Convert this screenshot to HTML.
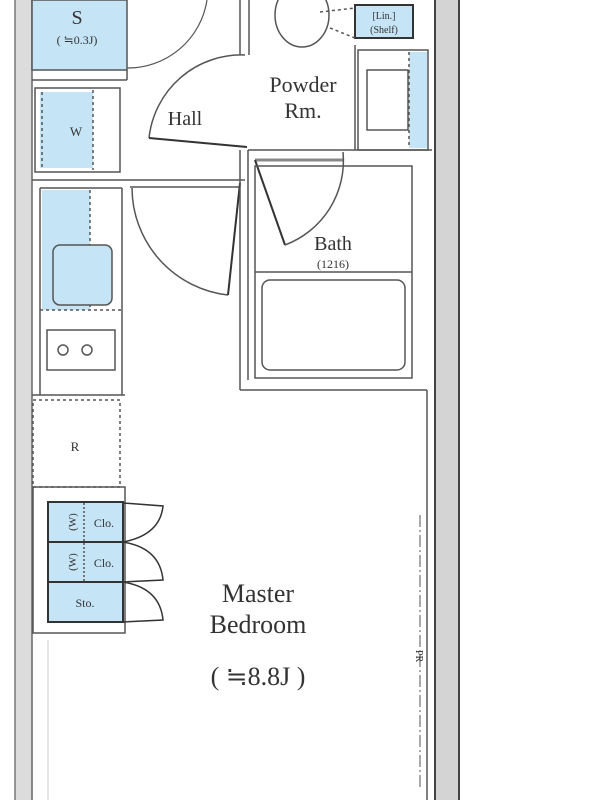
<!DOCTYPE html>
<html><head><style>html,body{margin:0;padding:0;background:#fff}svg{display:block}</style></head><body>
<svg width="600" height="800" viewBox="0 0 600 800" xmlns="http://www.w3.org/2000/svg" font-family="Liberation Serif, serif" fill="none" stroke="#555" stroke-width="1.5">
<!-- outer walls -->
<rect x="15" y="0" width="17" height="800" fill="#dcdcdc" stroke="none"/>
<line x1="15" y1="0" x2="15" y2="800" stroke="#777"/>
<line x1="32" y1="0" x2="32" y2="800" stroke="#666"/>
<rect x="435" y="0" width="24" height="800" fill="#d4d4d4" stroke="none"/>
<line x1="435" y1="0" x2="435" y2="800" stroke="#444" stroke-width="2"/>
<line x1="459" y1="0" x2="459" y2="800" stroke="#444" stroke-width="2"/>
<!-- S -->
<rect x="32" y="0" width="95" height="70" fill="#c5e4f5" stroke="#555"/>
<line x1="32" y1="80" x2="127" y2="80"/>
<line x1="127" y1="70" x2="127" y2="80"/>
<text x="77" y="24" font-size="20" fill="#333" stroke="none" text-anchor="middle">S</text>
<text x="77" y="44" font-size="12" fill="#333" stroke="none" text-anchor="middle">( ≒0.3J)</text>
<path d="M127 68 A80 80 0 0 0 207 0" stroke="#555" stroke-width="1.2"/>
<!-- Hall wall -->
<line x1="240" y1="0" x2="240" y2="55"/><line x1="249" y1="0" x2="249" y2="55"/>
<path d="M245 55 A93 93 0 0 0 149 138"/>
<line x1="149" y1="138" x2="247" y2="147" stroke="#333" stroke-width="2"/>
<text x="185" y="125" font-size="20" fill="#333" stroke="none" text-anchor="middle">Hall</text>
<!-- W -->
<rect x="35" y="88" width="85" height="84" fill="#fff"/>
<rect x="40" y="92" width="53" height="76" fill="#c5e4f5" stroke="none"/>
<line x1="93" y1="90" x2="93" y2="170" stroke-dasharray="3 3"/>
<line x1="42" y1="92" x2="42" y2="170" stroke-dasharray="3 3"/>
<text x="76" y="136" font-size="13" fill="#333" stroke="none" text-anchor="middle">W</text>
<line x1="32" y1="180" x2="245" y2="180"/>
<line x1="130" y1="187" x2="240" y2="187"/>
<!-- door 2 -->
<path d="M132 188 A108 108 0 0 0 228 295"/>
<line x1="240" y1="183" x2="228" y2="295" stroke="#333" stroke-width="2"/>
<!-- kitchen -->
<line x1="40" y1="188" x2="122" y2="188"/>
<line x1="122" y1="188" x2="122" y2="395"/>
<line x1="40" y1="188" x2="40" y2="395"/>
<rect x="42" y="190" width="48" height="120" fill="#c5e4f5" stroke="none"/>
<line x1="90" y1="190" x2="90" y2="310" stroke-dasharray="3 3"/>
<rect x="53" y="245" width="59" height="60" rx="7" fill="#c5e4f5"/>
<line x1="40" y1="310" x2="122" y2="310" stroke-dasharray="3 3"/>
<rect x="47" y="330" width="68" height="40" fill="#fff"/>
<circle cx="63" cy="350" r="5"/><circle cx="87" cy="350" r="5"/>
<line x1="32" y1="395" x2="125" y2="395"/>
<!-- R -->
<rect x="33" y="400" width="87" height="87" stroke-dasharray="3 3"/>
<text x="75" y="451" font-size="13" fill="#333" stroke="none" text-anchor="middle">R</text>
<!-- closets -->
<rect x="33" y="487" width="92" height="146"/>
<rect x="48" y="502" width="75" height="120" fill="#c5e4f5" stroke="#333" stroke-width="2"/>
<line x1="48" y1="542" x2="123" y2="542" stroke="#333" stroke-width="2"/>
<line x1="48" y1="582" x2="123" y2="582" stroke="#333" stroke-width="2"/>
<line x1="84" y1="503" x2="84" y2="581" stroke-dasharray="2 2"/>
<text x="104" y="527" font-size="12" fill="#333" stroke="none" text-anchor="middle">Clo.</text>
<text x="104" y="567" font-size="12" fill="#333" stroke="none" text-anchor="middle">Clo.</text>
<text x="76" y="522" font-size="11" fill="#333" stroke="none" text-anchor="middle" transform="rotate(-90 76 522)">(W)</text>
<text x="76" y="562" font-size="11" fill="#333" stroke="none" text-anchor="middle" transform="rotate(-90 76 562)">(W)</text>
<text x="85" y="607" font-size="12" fill="#333" stroke="none" text-anchor="middle">Sto.</text>
<path d="M123 503 L163 506 Q160 535 123 542 M123 542 Q160 548 163 580 L123 582 M123 582 Q160 588 163 620 L123 622" stroke="#333"/>
<!-- powder room -->
<ellipse cx="302" cy="15" rx="27" ry="32"/>
<rect x="355" y="5" width="58" height="33" fill="#c5e4f5" stroke="#333" stroke-width="2"/>
<text x="384" y="19" font-size="10" fill="#333" stroke="none" text-anchor="middle">[Lin.]</text>
<text x="384" y="33" font-size="10" fill="#333" stroke="none" text-anchor="middle">(Shelf)</text>
<path d="M320 12 L355 8 M330 28 L355 38" stroke-dasharray="3 3"/>
<line x1="355" y1="45" x2="355" y2="150"/>
<rect x="358" y="50" width="70" height="100"/>
<rect x="409" y="52" width="18" height="96" fill="#c5e4f5" stroke="none"/>
<line x1="409" y1="52" x2="409" y2="148" stroke-dasharray="3 3"/>
<rect x="367" y="70" width="41" height="60"/>
<text x="303" y="92" font-size="22" fill="#333" stroke="none" text-anchor="middle">Powder</text>
<text x="303" y="118" font-size="22" fill="#333" stroke="none" text-anchor="middle">Rm.</text>
<line x1="240" y1="150" x2="240" y2="390"/>
<line x1="248" y1="150" x2="248" y2="380"/>
<line x1="248" y1="150" x2="432" y2="150"/>
<line x1="255" y1="160" x2="343" y2="160" stroke-width="3" stroke="#888"/>
<!-- bath -->
<line x1="255" y1="160" x2="285" y2="245" stroke="#333" stroke-width="2"/>
<path d="M285 245 A90 90 0 0 0 343 152"/>
<rect x="255" y="166" width="157" height="212"/>
<line x1="255" y1="272" x2="412" y2="272"/>
<rect x="262" y="280" width="143" height="90" rx="8"/>
<text x="333" y="250" font-size="20" fill="#333" stroke="none" text-anchor="middle">Bath</text>
<text x="333" y="268" font-size="12" fill="#333" stroke="none" text-anchor="middle">(1216)</text>
<!-- bedroom -->
<line x1="240" y1="390" x2="427" y2="390"/>
<line x1="427" y1="390" x2="427" y2="800"/>
<line x1="420" y1="515" x2="420" y2="790" stroke-dasharray="12 3 2 3" stroke-width="1"/>
<text x="416" y="650" font-size="10" fill="#333" stroke="none" transform="rotate(90 416 650)">PR</text>
<line x1="48" y1="640" x2="48" y2="800" stroke="#ccc" stroke-width="1"/>
<text x="258" y="602" font-size="26" fill="#333" stroke="none" text-anchor="middle">Master</text>
<text x="258" y="633" font-size="26" fill="#333" stroke="none" text-anchor="middle">Bedroom</text>
<text x="258" y="685" font-size="26" fill="#333" stroke="none" text-anchor="middle">( ≒8.8J )</text>
</svg>
</body></html>
